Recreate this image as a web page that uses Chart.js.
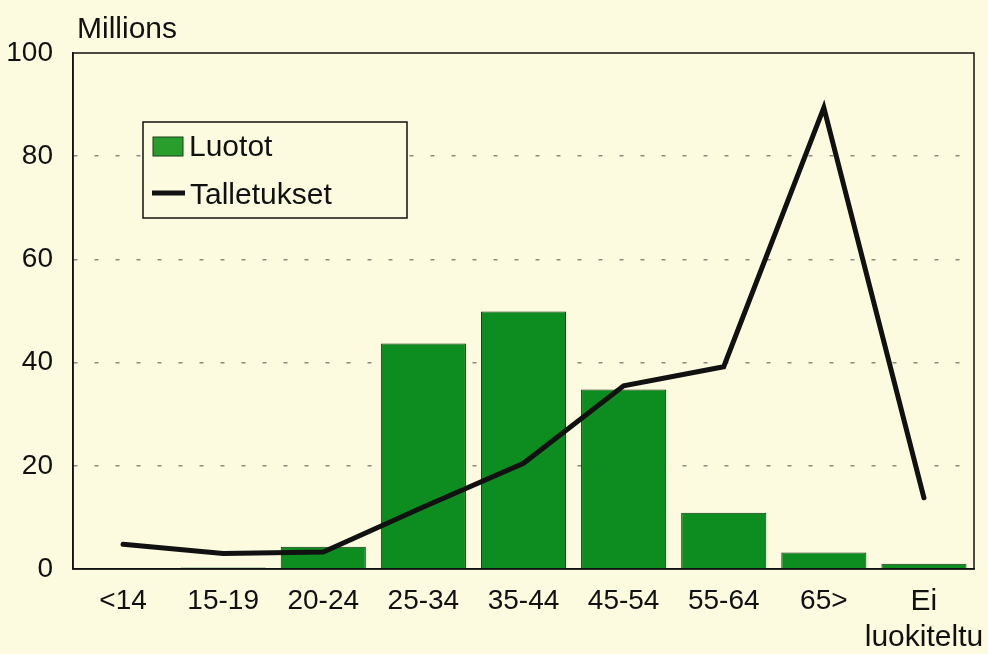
<!DOCTYPE html>
<html>
<head>
<meta charset="utf-8">
<script src="https://cdn.jsdelivr.net/npm/chart.js@4"></script>
<style>
    html, body { margin: 0; padding: 0; background: #fdfbdf; }
    #wrap { width: 988px; height: 654px; }
</style>
</head>
<body>
<div id="wrap"><canvas id="ageChart"></canvas></div>
<script>
// Age groups and the two series (millions)
const ageGroups = ['<14', '15-19', '20-24', '25-34', '35-44', '45-54', '55-64', '65>', ['Ei', 'luokiteltu']];
const luotot = [0, 0.3, 4.3, 43.7, 49.9, 34.8, 10.9, 3.2, 1.0];
const talletukset = [4.8, 3.0, 3.3, 12.0, 20.5, 35.5, 39.2, 89.4, 13.8];
const yTicks = [0, 20, 40, 60, 80, 100];

const BG = '#fdfbdf';
const SANS = '"Liberation Sans", Arial, sans-serif';

// frame, unit label and boxed legend inside the plot
const decorations = {
    id: 'decorations',
    afterDraw(chart) {
        const ctx = chart.ctx;
        const a = chart.chartArea;
        ctx.save();

        ctx.strokeStyle = '#111';
        ctx.lineWidth = 1.5;
        ctx.strokeRect(a.left, a.top, a.right - a.left, a.bottom - a.top);

        ctx.fillStyle = '#111';
        ctx.font = '30px ' + SANS;
        ctx.textBaseline = 'alphabetic';
        ctx.fillText('Millions', a.left + 4, 38);

        const bx = a.left + 70, by = a.top + 69;
        ctx.fillStyle = BG;
        ctx.fillRect(bx, by, 264, 96);
        ctx.strokeRect(bx, by, 264, 96);

        ctx.fillStyle = '#2a9e2c';
        ctx.fillRect(bx + 10, by + 15, 30, 19);
        ctx.lineWidth = 1;
        ctx.strokeStyle = '#1b3d1b';
        ctx.strokeRect(bx + 10, by + 15, 30, 19);

        ctx.strokeStyle = '#111';
        ctx.lineWidth = 5;
        ctx.beginPath();
        ctx.moveTo(bx + 9, by + 71);
        ctx.lineTo(bx + 42, by + 71);
        ctx.stroke();

        ctx.fillStyle = '#111';
        ctx.font = '30px ' + SANS;
        ctx.fillText(chart.data.datasets[1].label, bx + 46, by + 34);
        ctx.fillText(chart.data.datasets[0].label, bx + 47, by + 82);
        ctx.restore();
    }
};

new Chart(document.getElementById('ageChart'), {
    data: {
        labels: ageGroups,
        datasets: [
            {
                type: 'line',
                label: 'Talletukset',
                data: talletukset,
                borderColor: '#111',
                borderWidth: 5,
                borderJoinStyle: 'miter',
                borderCapStyle: 'round',
                pointRadius: 0,
                tension: 0,
                order: 0
            },
            {
                type: 'bar',
                label: 'Luotot',
                data: luotot,
                backgroundColor: '#0d8d20',
                borderColor: '#142e14',
                borderWidth: 1,
                barPercentage: 0.85,
                categoryPercentage: 1,
                order: 1
            }
        ]
    },
    options: {
        responsive: true,
        maintainAspectRatio: false,
        animation: false,
        layout: { padding: { top: 53, right: 14, left: 0, bottom: 0 } },
        plugins: { legend: { display: false }, tooltip: { enabled: false } },
        scales: {
            x: {
                grid: { display: false, drawTicks: false },
                border: { display: true, color: '#111', width: 1.5 },
                afterFit: (s) => { s.height = 85; s.paddingLeft = 0; s.paddingRight = 0; },
                ticks: {
                    color: '#111',
                    padding: 15,
                    maxRotation: 0,
                    autoSkip: false,
                    font: (c) => c.index === 8
                        ? { family: SANS, size: 30, lineHeight: 1.2 }
                        : { family: SANS, size: 28, lineHeight: 1.2 }
                }
            },
            y: {
                min: 0,
                max: 100,
                afterFit: (s) => { s.width = 73; },
                afterBuildTicks: (s) => { s.ticks = yTicks.map(v => ({ value: v })); },
                border: { display: true, color: '#111', width: 1.5, dash: [4, 17] },
                grid: {
                    drawTicks: false,
                    lineWidth: 1.5,
                    color: (c) => (c.tick && (c.tick.value === 0 || c.tick.value === 100)) ? 'rgba(0,0,0,0)' : '#8a8a80'
                },
                ticks: {
                    color: '#111',
                    padding: 20,
                    font: { family: SANS, size: 28 }
                }
            }
        }
    },
    plugins: [decorations]
});
</script>
</body>
</html>
